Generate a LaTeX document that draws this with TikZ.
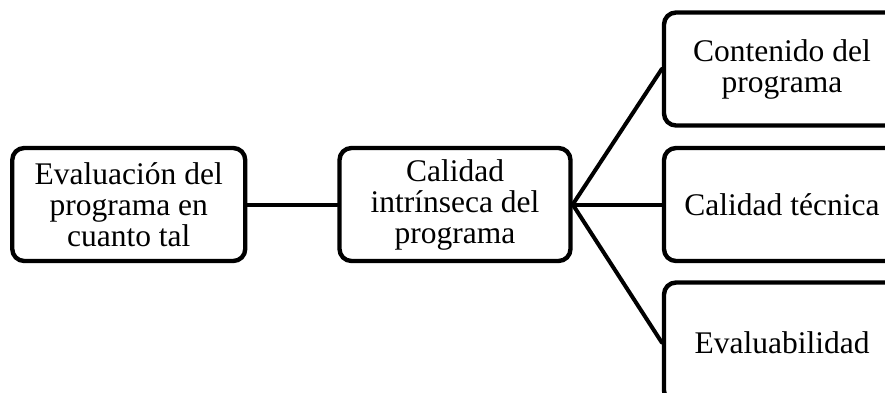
\documentclass[tikz,border=0pt]{standalone}
\usepackage{fontspec}
\setmainfont{Liberation Serif}
\begin{document}
\begin{tikzpicture}[x=0.5pt,y=-0.5pt,
  box/.style={draw=black, line width=2.2pt, rounded corners=6pt, fill=white,
    align=center, inner sep=0pt, minimum height=56.5pt,
    font=\fontsize{15.75pt}{15.5pt}\selectfont},
  link/.style={line width=2pt, line cap=round}]
\useasboundingbox (0,0) rectangle (885,392);
\clip (0,0) rectangle (885,392);
\node[box, minimum width=116.5pt] (eval) at (128.75,204.5) {Evaluación del\\programa en\\cuanto tal};
\node[box, minimum width=115.5pt] (cal) at (455,204.5) {Calidad\\intrínseca del\\programa};
\node[box, minimum width=118pt] (cont) at (782,69) {Contenido del\\programa};
\node[box, minimum width=118pt] (tec) at (782,204.5) {Calidad técnica};
\node[box, minimum width=118pt, minimum height=60pt] (evb) at (782,342.5) {Evaluabilidad};
\draw[link] (eval.east) -- (cal.west);
\draw[link] (cal.east) -- (cont.west);
\draw[link] (cal.east) -- (tec.west);
\draw[link] (cal.east) -- (evb.west);
\end{tikzpicture}
\end{document}
